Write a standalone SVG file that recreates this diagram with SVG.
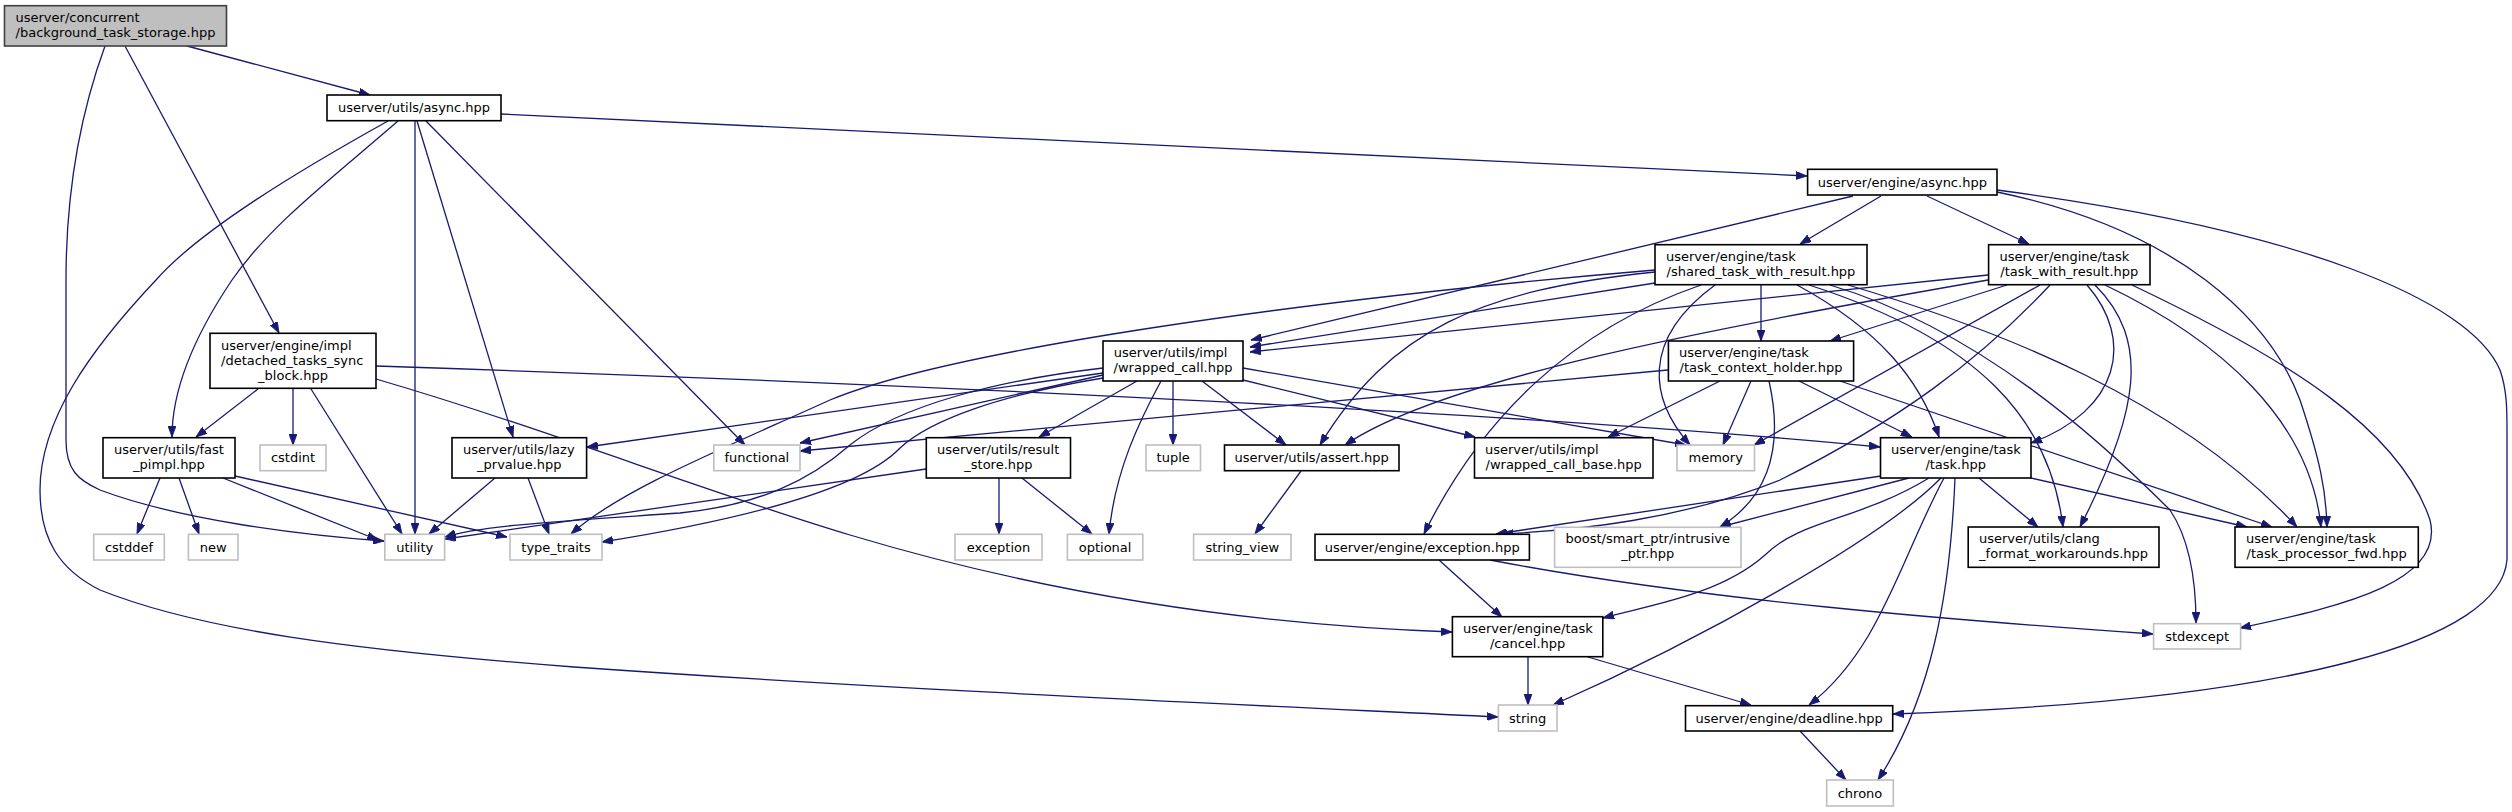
<svg xmlns="http://www.w3.org/2000/svg" width="2512" height="812" viewBox="0 0 2512 812">
<defs>
<style>
rect{fill:#fff;stroke:#000;stroke-width:1.6}
.ext rect{stroke:#bfbfbf}
#n_root rect{fill:#bfbfbf;stroke:#404040}
text{font-family:"DejaVu Sans","Liberation Sans",sans-serif;font-size:13px;fill:#000}
.c{text-anchor:middle}
#edges path{fill:none;stroke:#191970;stroke-width:1.3;marker-end:url(#ah)}
</style>
<marker id="ah" viewBox="0 0 11 8" refX="11" refY="4" markerWidth="11" markerHeight="8" markerUnits="userSpaceOnUse" orient="auto">
<path d="M0,0 L11,4 L0,8 z" fill="#191970" stroke="#191970" stroke-width="0.8"/>
</marker>
</defs>
<rect x="0" y="0" width="2512" height="812" style="fill:#fff;stroke:none"/>
<g id="edges">
<path d="M187,46 L370,95"/>
<path d="M125,46 L279,333"/>
<path d="M105,46 C78,120 66,200 66,280 L66,440 C66,470 78,480 100,490 C180,520 300,535 384,541"/>
<path d="M388,121 C300,170 200,230 156,280 C90,350 40,420 40,490 C40,540 60,570 100,590 C200,630 350,650 574,667 C900,690 1250,705 1498,717"/>
<path d="M398,121 C330,180 270,225 232,280 C195,335 172,390 172,437"/>
<path d="M415,121 L415,534"/>
<path d="M417,121 L513,437"/>
<path d="M426,121 L745,445"/>
<path d="M501,114 L1807,176"/>
<path d="M258,389 L196,437"/>
<path d="M293,389 L293,445"/>
<path d="M311,389 L402,534"/>
<path d="M376,366 C800,380 1500,410 1880,447"/>
<path d="M376,379 C550,430 700,490 850,535 C1050,595 1250,625 1452,632"/>
<path d="M160,478 L137,534"/>
<path d="M179,478 L199,534"/>
<path d="M223,478 L378,540"/>
<path d="M235,476 L507,537"/>
<path d="M495,478 L429,534"/>
<path d="M528,478 L549,534"/>
<path d="M1853,196 L1251,340"/>
<path d="M1881,196 L1800,244"/>
<path d="M1927,196 L2029,244"/>
<path d="M1997,192 C2180,230 2270,320 2300,400 C2320,460 2326,490 2327,527"/>
<path d="M1997,190 C2300,230 2470,300 2500,370 C2507,390 2507,410 2507,430 L2507,560 C2500,640 2300,700 1893,714"/>
<path d="M1655,283 L1250,347"/>
<path d="M1655,270 C1300,300 950,350 830,400 C720,450 620,490 571,534"/>
<path d="M1655,272 C1480,290 1390,330 1320,445"/>
<path d="M1761,285 L1761,341"/>
<path d="M1715,285 C1640,340 1650,400 1690,445"/>
<path d="M1701,285 C1570,330 1480,420 1424,534"/>
<path d="M1797,285 C1880,330 1920,380 1939,437"/>
<path d="M1809,285 C1980,340 2050,420 2063,527"/>
<path d="M1848,285 C2000,330 2180,400 2297,527"/>
<path d="M1830,285 C1980,330 2100,440 2170,510 C2190,540 2196,580 2196,623"/>
<path d="M1988,275 L1250,352"/>
<path d="M1988,280 C1700,330 1440,380 1345,445"/>
<path d="M2007,285 L1830,341"/>
<path d="M2040,285 L1754,445"/>
<path d="M2050,285 C1980,360 1900,420 1780,480 C1680,520 1580,530 1502,534"/>
<path d="M2087,285 C2135,340 2120,410 2031,443"/>
<path d="M2095,285 C2150,340 2140,410 2080,527"/>
<path d="M2105,285 C2220,340 2310,420 2321,527"/>
<path d="M2132,285 C2290,360 2400,430 2430,520 C2445,580 2350,605 2240,628"/>
<path d="M1103,373 L587,447"/>
<path d="M1103,375 L800,443"/>
<path d="M1103,368 C1000,380 900,405 850,445 C810,480 760,505 680,513 C580,520 480,525 445,537"/>
<path d="M1103,378 C1000,395 930,420 900,448 C860,490 740,520 602,542"/>
<path d="M1137,381 L1039,437"/>
<path d="M1161,381 C1140,420 1115,470 1109,534"/>
<path d="M1173,381 L1173,445"/>
<path d="M1202,381 L1286,445"/>
<path d="M1243,380 L1475,437"/>
<path d="M1243,368 L1686,445"/>
<path d="M926,469 L445,539"/>
<path d="M999,478 L999,534"/>
<path d="M1022,478 L1092,534"/>
<path d="M1301,471 L1255,534"/>
<path d="M1668,370 L800,451"/>
<path d="M1720,381 L1608,437"/>
<path d="M1751,381 L1723,445"/>
<path d="M1799,381 L1912,437"/>
<path d="M1769,381 C1780,430 1780,490 1720,527"/>
<path d="M1840,381 L2272,527"/>
<path d="M1881,476 L1496,534"/>
<path d="M1909,478 L1720,527"/>
<path d="M1929,478 C1860,520 1800,520 1765,555 C1720,595 1650,605 1603,618"/>
<path d="M1941,478 C1880,540 1700,640 1553,705"/>
<path d="M1944,478 C1900,560 1880,650 1809,705"/>
<path d="M1955,478 C1950,600 1930,700 1878,780"/>
<path d="M1979,478 L2038,527"/>
<path d="M2031,478 L2247,527"/>
<path d="M1439,560 L1502,617"/>
<path d="M1490,560 C1700,600 1950,620 2153,634"/>
<path d="M1528,657 L1528,705"/>
<path d="M1588,657 L1751,705"/>
<path d="M1800,731 L1846,780"/>
</g>
<g id="n_root"><rect x="4.5" y="5.7" width="222" height="40.3"/><text x="15.5" y="21.8">userver/concurrent</text><text x="115.5" y="36.8" class="c">/background_task_storage.hpp</text></g>
<g id="n_utils_async"><rect x="327" y="95" width="174" height="25.7"/><text x="414" y="112.4" class="c">userver/utils/async.hpp</text></g>
<g id="n_engine_async"><rect x="1807.6" y="169.3" width="189.4" height="25.7"/><text x="1902.3" y="186.7" class="c">userver/engine/async.hpp</text></g>
<g id="n_detached"><rect x="210" y="333.3" width="166" height="55"/><text x="221" y="350">userver/engine/impl</text><text x="221" y="365">/detached_tasks_sync</text><text x="293" y="380" class="c">_block.hpp</text></g>
<g id="n_shared"><rect x="1655" y="244.7" width="212" height="40"/><text x="1666" y="260.7">userver/engine/task</text><text x="1761" y="275.7" class="c">/shared_task_with_result.hpp</text></g>
<g id="n_twr"><rect x="1988.6" y="244.7" width="161.4" height="40"/><text x="1999.5" y="260.7">userver/engine/task</text><text x="2069.3" y="275.7" class="c">/task_with_result.hpp</text></g>
<g id="n_wrapped_call"><rect x="1103" y="341" width="140" height="40"/><text x="1113.8" y="357">userver/utils/impl</text><text x="1173" y="372" class="c">/wrapped_call.hpp</text></g>
<g id="n_tch"><rect x="1668.4" y="341" width="185.2" height="40"/><text x="1679" y="357">userver/engine/task</text><text x="1761" y="372" class="c">/task_context_holder.hpp</text></g>
<g id="n_fast_pimpl"><rect x="103" y="437.7" width="132" height="40.3"/><text x="114" y="453.7">userver/utils/fast</text><text x="169" y="468.7" class="c">_pimpl.hpp</text></g>
<g id="n_cstdint" class="ext"><rect x="260" y="445" width="66" height="25.7"/><text x="293" y="462.4" class="c">cstdint</text></g>
<g id="n_lazy"><rect x="452" y="437.7" width="134.6" height="40.3"/><text x="463" y="453.7">userver/utils/lazy</text><text x="519.3" y="468.7" class="c">_prvalue.hpp</text></g>
<g id="n_functional" class="ext"><rect x="713.8" y="445" width="86.2" height="25.7"/><text x="756.9" y="462.4" class="c">functional</text></g>
<g id="n_result_store"><rect x="926.3" y="437.7" width="144.2" height="40.3"/><text x="937" y="453.7">userver/utils/result</text><text x="998.4" y="468.7" class="c">_store.hpp</text></g>
<g id="n_tuple" class="ext"><rect x="1146" y="445" width="54.5" height="25.7"/><text x="1173.2" y="462.4" class="c">tuple</text></g>
<g id="n_assert"><rect x="1224.5" y="445" width="174.5" height="25.7"/><text x="1311.7" y="462.4" class="c">userver/utils/assert.hpp</text></g>
<g id="n_wcb"><rect x="1474.5" y="437.7" width="178.5" height="40.3"/><text x="1485" y="453.7">userver/utils/impl</text><text x="1563.7" y="468.7" class="c">/wrapped_call_base.hpp</text></g>
<g id="n_memory" class="ext"><rect x="1677" y="445" width="77.5" height="25.7"/><text x="1715.7" y="462.4" class="c">memory</text></g>
<g id="n_task"><rect x="1880.5" y="437.7" width="150.5" height="40.3"/><text x="1891" y="453.7">userver/engine/task</text><text x="1955.7" y="468.7" class="c">/task.hpp</text></g>
<g id="n_cstddef" class="ext"><rect x="93.7" y="534.3" width="70.6" height="25.7"/><text x="129" y="551.7" class="c">cstddef</text></g>
<g id="n_new" class="ext"><rect x="188.4" y="534.3" width="49.6" height="25.7"/><text x="213.2" y="551.7" class="c">new</text></g>
<g id="n_utility" class="ext"><rect x="384.8" y="534.3" width="59.8" height="25.7"/><text x="414.7" y="551.7" class="c">utility</text></g>
<g id="n_type_traits" class="ext"><rect x="510" y="534.3" width="92" height="25.7"/><text x="556" y="551.7" class="c">type_traits</text></g>
<g id="n_exception" class="ext"><rect x="955" y="534.3" width="87" height="25.7"/><text x="998.5" y="551.7" class="c">exception</text></g>
<g id="n_optional" class="ext"><rect x="1067.4" y="534.3" width="75.4" height="25.7"/><text x="1105.1" y="551.7" class="c">optional</text></g>
<g id="n_string_view" class="ext"><rect x="1193.6" y="534.3" width="97.4" height="25.7"/><text x="1242.3" y="551.7" class="c">string_view</text></g>
<g id="n_engine_exception"><rect x="1315" y="534.3" width="214.4" height="25.7"/><text x="1422.2" y="551.7" class="c">userver/engine/exception.hpp</text></g>
<g id="n_boost" class="ext"><rect x="1554.6" y="527.3" width="186.4" height="40"/><text x="1565.5" y="543.3">boost/smart_ptr/intrusive</text><text x="1647.8" y="558.3" class="c">_ptr.hpp</text></g>
<g id="n_clang"><rect x="1968.2" y="527" width="190.8" height="40.3"/><text x="1979" y="543">userver/utils/clang</text><text x="2063.6" y="558" class="c">_format_workarounds.hpp</text></g>
<g id="n_tpf"><rect x="2235" y="527" width="183.3" height="40.3"/><text x="2246" y="543">userver/engine/task</text><text x="2326.6" y="558" class="c">/task_processor_fwd.hpp</text></g>
<g id="n_stdexcept" class="ext"><rect x="2153.6" y="623.7" width="87" height="25.3"/><text x="2197.1" y="640.9" class="c">stdexcept</text></g>
<g id="n_cancel"><rect x="1452.4" y="616.7" width="150.4" height="40"/><text x="1463" y="632.7">userver/engine/task</text><text x="1527.6" y="647.7" class="c">/cancel.hpp</text></g>
<g id="n_string" class="ext"><rect x="1498.4" y="705" width="58.6" height="26"/><text x="1527.7" y="722.5" class="c">string</text></g>
<g id="n_deadline"><rect x="1685.5" y="705.7" width="207.2" height="25.3"/><text x="1789.1" y="722.9" class="c">userver/engine/deadline.hpp</text></g>
<g id="n_chrono" class="ext"><rect x="1826.7" y="780" width="66.6" height="26"/><text x="1860" y="797.5" class="c">chrono</text></g>
</svg>
